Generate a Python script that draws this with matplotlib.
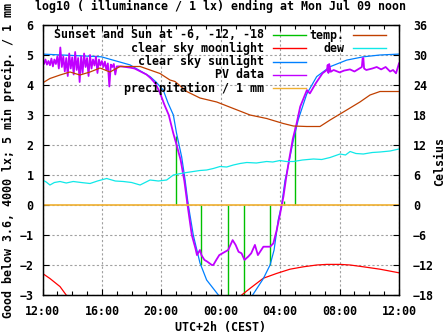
import matplotlib
matplotlib.use("Agg")
import matplotlib.pyplot as plt
from matplotlib.lines import Line2D

# ---------------- data (hours after Sun 12:00 local) ----------------
title = "log10 ( illuminance / 1 lx) ending at Mon Jul 09 noon"
ylabel_left = "Good below 3.6, 4000 lx; 5 min precip. / 1 mm"
ylabel_right = "Celsius"
xlabel = "UTC+2h (CEST)"
xtick_hours = [0, 4, 8, 12, 16, 20, 24]
xtick_labels = ["12:00", "16:00", "20:00", "00:00", "04:00", "08:00", "12:00"]

# sunset and sun at -6, -12, -18 (impulses)
sun_t = [9.01, 9.71, 10.69, 12.51, 13.59, 15.34, 16.28, 17.00]
sun_v = [2.30, 0.15, -2.00, -4.00, -4.00, -2.00, 0.15, 2.65]

# clear sky moonlight
moon_t1 = [0.0, 0.5, 1.18, 1.52, 2.19]
moon_v1 = [-2.28, -2.45, -2.72, -2.95, -3.40]
moon_t2 = [12.96, 13.41, 13.97, 14.87, 15.77, 16.66, 17.56, 18.46, 19.13,
           20.03, 20.71, 21.60, 22.72, 24.0]
moon_v2 = [-3.40, -3.00, -2.78, -2.44, -2.28, -2.14, -2.06, -2.00, -1.98,
           -1.98, -2.00, -2.06, -2.14, -2.26]

# clear sky sunlight
sunl_t = [0.0, 3.96, 5.89, 7.24, 7.64, 8.13, 8.45, 8.81, 9.02, 9.37, 9.60,
          9.80, 10.15, 10.60, 11.05, 11.84, 12.40, 13.60, 14.15, 14.87, 15.32,
          15.59, 15.87, 16.10, 16.33, 16.44, 16.89, 17.22, 17.79, 18.46,
          19.36, 20.48, 21.60, 22.72, 24.0]
sunl_v = [5.03, 4.94, 4.67, 4.28, 4.10, 3.83, 3.40, 3.00, 2.40, 1.60, 0.83,
          0.05, -1.00, -1.93, -2.50, -3.00, -3.50, -3.50, -3.00, -2.45, -2.00,
          -1.50, -0.50, 0.00, 0.83, 1.06, 2.17, 2.85, 3.70, 4.28,
          4.61, 4.83, 4.94, 5.00, 5.03]

# PV data
pv_t = [0.0, 0.1, 0.2, 0.3, 0.4, 0.5, 0.6, 0.7, 0.8, 0.9, 1.0, 1.1, 1.2, 1.3,
        1.4, 1.5, 1.6, 1.7, 1.8, 1.9, 2.0, 2.1, 2.2, 2.3, 2.4, 2.5, 2.6, 2.7,
        2.8, 2.9, 3.0, 3.1, 3.2, 3.3, 3.4, 3.5, 3.6, 3.7, 3.8, 3.9, 4.0, 4.1,
        4.2, 4.3, 4.4, 4.5, 4.6, 4.7, 4.8, 4.9, 5.0,
        5.3, 5.6, 5.9, 6.2, 6.6, 7.0, 7.3, 7.6, 7.9, 8.2, 8.5, 8.8, 9.0, 9.3,
        9.55, 9.75, 10.05, 10.3, 10.4, 10.6, 10.7, 10.9, 11.1, 11.4, 11.5,
        11.7, 11.9, 12.5, 12.8, 13.0, 13.2, 13.4, 13.6, 13.85, 14.05, 14.3,
        14.5, 14.87, 15.32, 15.54, 15.77, 16.0, 16.22, 16.4, 16.6, 16.85,
        17.1, 17.35, 17.8, 18.0, 18.4, 18.85, 19.15, 19.2, 19.25, 19.3, 19.4,
        19.6, 20.0, 20.3, 20.7, 21.0, 21.5, 21.55, 21.6, 21.65, 21.8, 22.2,
        22.5, 22.8, 23.1, 23.4, 23.6, 23.8, 24.0]
pv_v = [4.82, 4.70, 4.85, 4.68, 4.80, 4.66, 4.88, 4.62, 4.85, 4.70, 4.95,
        4.55, 5.25, 4.60, 4.95, 4.45, 4.90, 4.30, 5.05, 4.55, 4.92, 4.35,
        5.10, 4.50, 4.90, 4.10, 4.95, 4.40, 5.05, 4.60, 4.90, 4.30, 5.00,
        4.55, 4.85, 4.65, 4.95, 4.40, 4.85, 4.65, 4.80, 4.60, 4.78, 4.50,
        4.72, 3.95, 4.68, 4.60, 4.70, 4.35, 4.62,
        4.62, 4.60, 4.58, 4.55, 4.45, 4.35, 4.22, 4.05, 3.75, 3.35, 3.00,
        2.40, 2.05, 1.50, 0.80, 0.05, -1.00, -1.45, -1.67, -1.50, -1.67,
        -1.83, -1.89, -2.00, -2.00, -1.83, -1.67, -1.50, -1.17, -1.33,
        -1.56, -1.61, -1.83, -1.72, -1.61, -1.33, -1.67, -1.39, -1.39,
        -1.28, -0.83, -0.28, 0.28, 0.90, 1.50, 2.20, 2.70, 3.28, 3.83,
        3.72, 4.06, 4.39, 4.50, 4.67, 4.40, 4.70, 4.44, 4.50, 4.42, 4.48,
        4.52, 4.45, 4.60, 4.89, 4.90, 4.55, 4.50, 4.55, 4.60, 4.52, 4.60,
        4.45, 4.50, 4.39, 4.72]

# precipitation / 1 mm
precip_t = [0, 6, 12, 18, 24]
precip_v = [0, 0, 0, 0, 0]

# temperature (Celsius)
temp_t = [0.0, 0.5, 1.18, 1.85, 2.52, 3.2, 3.87, 4.54, 5.22, 5.89, 6.57,
          7.24, 7.91, 8.58, 8.92, 9.71, 10.6, 11.73, 12.85, 13.97, 15.09,
          16.21, 16.89, 17.79, 18.68, 19.36, 20.48, 21.37, 22.05, 22.72, 24.0]
temp_v = [24.4, 25.3, 26.0, 26.6, 26.0, 26.6, 27.4, 26.6, 27.7, 27.7, 27.7,
          27.0, 26.3, 25.0, 24.7, 22.7, 21.4, 20.6, 19.3, 18.0, 17.3,
          16.3, 15.8, 15.7, 15.7, 17.0, 19.0, 20.6, 22.0, 22.7, 22.7]

# dew point (Celsius)
dew_t = [0.0, 0.25, 0.5, 0.8, 1.18, 1.6, 2.07, 2.6, 3.2, 3.7, 4.32, 4.9,
         5.44, 6.0, 6.57, 7.24, 7.8, 8.36, 8.81, 9.48, 10.15, 10.6, 11.05,
         11.5, 11.95, 12.4, 12.85, 13.3, 13.75, 14.4, 15.09, 15.5, 15.99,
         16.4, 16.89, 17.5, 18.24, 18.8, 19.36, 20.03, 20.4, 20.71, 21.1,
         21.6, 22.2, 22.72, 23.4, 24.0]
dew_v = [5.0, 4.6, 4.0, 4.5, 4.7, 4.4, 4.7, 4.5, 4.3, 4.8, 5.3, 4.8,
         4.7, 4.5, 4.0, 5.0, 4.8, 5.0, 6.0, 6.4, 6.7, 6.9, 7.0,
         7.3, 7.7, 7.6, 8.0, 8.3, 8.5, 8.4, 8.7, 8.6, 8.9,
         8.7, 8.7, 9.0, 9.2, 9.1, 9.5, 10.2, 10.0, 10.7, 10.3,
         10.2, 10.5, 10.6, 10.8, 11.2]

# ---------------- styling ----------------
W, H = 447, 335
FONT = dict(family="DejaVu Sans Mono", weight="bold", size=8.4)
plt.rcParams["font.family"] = "DejaVu Sans Mono"
plt.rcParams["font.weight"] = "bold"
plt.rcParams["font.size"] = 8.4

C_GREEN = "#00c000"
C_RED = "#ff0000"
C_BLUE = "#0080ff"
C_PURPLE = "#c000ff"
C_ORANGE = "#f0b030"
C_BROWN = "#c04000"
C_CYAN = "#10e8e8"

fig = plt.figure(figsize=(W / 100, H / 100), dpi=100)
L, R, T, B = 42.5, 399.0, 25.0, 295.0
ax = fig.add_axes([L / W, 1 - B / H, (R - L) / W, (B - T) / H])
ax.set_xlim(0, 24)
ax.set_ylim(-3, 6)
ax.set_xticks(xtick_hours)
ax.set_xticklabels(xtick_labels)
ax.set_xticks(range(0, 25), minor=True)
ax.set_yticks(range(-3, 7))
ax.grid(True, which="major", color="#a0a0a0", linestyle=(0, (2, 2)),
        linewidth=0.8)
ax.set_axisbelow(True)
ax.tick_params(which="both", direction="in", top=True, right=False,
               width=0.8, labelsize=8.4)
ax.tick_params(which="major", length=4.5)
ax.tick_params(which="minor", length=3)
ax.tick_params(axis="y", pad=6.5)
ax.tick_params(axis="x", pad=7)
for s in ax.spines.values():
    s.set_linewidth(0.9)

lw = 0.9
ax.vlines(sun_t, 0, sun_v, colors=C_GREEN, linewidth=1.0)
ax.plot(moon_t1, moon_v1, color=C_RED, linewidth=lw)
ax.plot(moon_t2, moon_v2, color=C_RED, linewidth=lw)
ax.plot(sunl_t, sunl_v, color=C_BLUE, linewidth=lw)
ax.plot(pv_t, pv_v, color=C_PURPLE, linewidth=1.3)
ax.plot(precip_t, precip_v, color=C_ORANGE, linewidth=1.2)

ax2 = ax.twinx()
ax2.set_ylim(-18, 36)
ax2.set_yticks(range(-18, 37, 6))
ax2.tick_params(direction="in", length=4.5, width=0.8, pad=10,
                labelsize=8.4)
ax2.plot(temp_t, temp_v, color=C_BROWN, linewidth=lw)
ax2.plot(dew_t, dew_v, color=C_CYAN, linewidth=lw)
for s in ax2.spines.values():
    s.set_linewidth(0.9)

for lab in ax.get_xticklabels() + ax.get_yticklabels() + ax2.get_yticklabels():
    lab.set_fontweight("bold")

def fx(x):
    return x / W

def fy(y):
    return 1 - y / H

fig.text(fx(220.5), fy(6), title, ha="center", va="center", **FONT)
fig.text(fx(8.5), fy(161), ylabel_left, ha="center", va="center",
         rotation=90, **FONT)
fig.text(fx(440), fy(161), ylabel_right, ha="center", va="center",
         rotation=90, **FONT)
fig.text(fx(220.5), fy(328), xlabel, ha="center", va="center", **FONT)

# legend (gnuplot style: right-aligned text, sample to its right)
leg1 = [("Sunset and Sun at -6, -12, -18", C_GREEN),
        ("clear sky moonlight", C_RED),
        ("clear sky sunlight", C_BLUE),
        ("PV data", C_PURPLE),
        ("precipitation / 1 mm", C_ORANGE)]
leg2 = [("temp.", C_BROWN), ("dew", C_CYAN)]
rows = [35, 48.3, 61.7, 75, 88.3]
for (txt, c), y in zip(leg1, rows):
    fig.text(fx(264), fy(y), txt, ha="right", va="center", **FONT)
    fig.add_artist(Line2D([fx(273), fx(306)], [fy(y), fy(y)], color=c,
                          linewidth=1.0))
for (txt, c), y in zip(leg2, rows):
    fig.text(fx(344), fy(y), txt, ha="right", va="center", **FONT)
    fig.add_artist(Line2D([fx(353), fx(386)], [fy(y), fy(y)], color=c,
                          linewidth=1.0))

fig.savefig("out.png", dpi=100)
